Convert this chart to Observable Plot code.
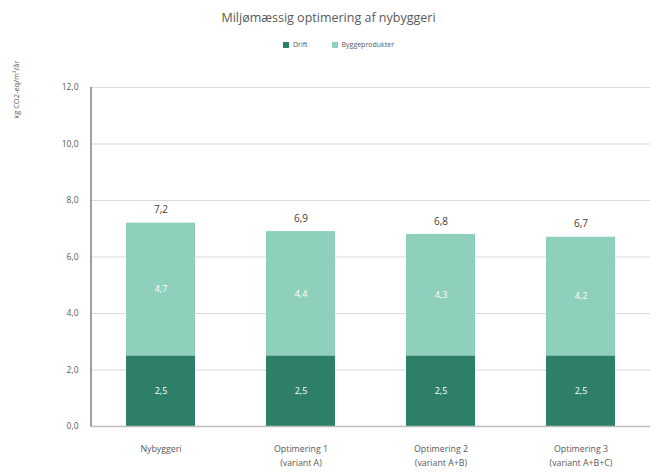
<!DOCTYPE html>
<html>
<head>
<meta charset="utf-8">
<script src="https://cdn.jsdelivr.net/npm/d3@7"></script>
<script src="https://cdn.jsdelivr.net/npm/@observablehq/plot@0.6"></script>
<style>
  body { margin: 0; background: #fff; font-family: "Open Sans", "Liberation Sans", sans-serif; color: #595959; }
  #wrap { width: 657px; }
  .title { text-align: center; font-size: 12.5px; height: 34px; line-height: 36px; color: #595959; }
  .legend { display: flex; justify-content: center; gap: 24px; font-size: 7px; height: 22px; line-height: 22px; color: #595959; padding-left: 20px; }
  .legend span { display: inline-flex; align-items: center; gap: 4px; }
  .legend i { display: inline-block; width: 6px; height: 6px; }
</style>
</head>
<body>
<div id="wrap">
  <div class="title">Miljømæssig optimering af nybyggeri</div>
  <div class="legend" id="legend"></div>
  <div id="chart"></div>
</div>
<script>
const categories = ["Nybyggeri", "Optimering 1\n(variant A)", "Optimering 2\n(variant A+B)", "Optimering 3\n(variant A+B+C)"];
const series = ["Drift", "Byggeprodukter"];
const drift = [2.5, 2.5, 2.5, 2.5];
const byggeprodukter = [4.7, 4.4, 4.3, 4.2];
const totals = [7.2, 6.9, 6.8, 6.7];
const yTicks = [0, 2, 4, 6, 8, 10, 12];
const colors = ["#2e7f68", "#8fd0bd"];
const yLabel = "kg CO2-eq/m²/år";

const fmt = v => v.toFixed(1).replace(".", ",");

const rows = [];
categories.forEach((c, i) => {
  rows.push({cat: c, series: series[0], value: drift[i]});
  rows.push({cat: c, series: series[1], value: byggeprodukter[i]});
});
const totalRows = categories.map((c, i) => ({cat: c, total: totals[i]}));

const legend = document.getElementById("legend");
series.forEach((s, i) => {
  const sp = document.createElement("span");
  sp.innerHTML = `<i style="background:${colors[i]}"></i>${s}`;
  legend.appendChild(sp);
});

const chart = Plot.plot({
  width: 657,
  height: 418,
  marginLeft: 90,
  marginRight: 7,
  marginTop: 31,
  marginBottom: 48,
  style: {fontFamily: "'Open Sans', 'Liberation Sans', sans-serif", fontSize: "9px", color: "#595959", overflow: "visible"},
  x: {domain: categories, paddingInner: 0.51, paddingOuter: 0.255, label: null},
  y: {domain: [0, 12], label: null},
  color: {domain: series, range: colors},
  marks: [
    Plot.gridY(yTicks, {stroke: "#d9d9d9", strokeOpacity: 1}),
    Plot.barY(rows, Plot.stackY({x: "cat", y: "value", fill: "series", order: series})),
    Plot.text(rows, Plot.stackY({x: "cat", y: "value", z: "series", order: series, text: d => fmt(d.value), fill: "white", fontSize: 9})),
    Plot.text(totalRows, {x: "cat", y: "total", text: d => fmt(d.total), dy: -13, fill: "#404040", fontSize: 10}),
    Plot.axisY(yTicks, {tickSize: 0, tickPadding: 12, tickFormat: fmt, fontSize: 8.5, fill: "#595959"}),
    Plot.axisX({tickSize: 0, tickPadding: 15, fontSize: 8.8, lineHeight: 1.65, fill: "#595959", label: null}),
    Plot.ruleY([0], {stroke: "#bfbfbf", strokeWidth: 1.5}),
    Plot.ruleX([0], {x: () => categories[0], stroke: "#808080", dx: -70, y1: 0, y2: 12, strokeWidth: 1.5}),
    Plot.text([yLabel], {frameAnchor: "top-left", rotate: -90, textAnchor: "end", dx: -77, dy: -27, fontSize: 7.5, fill: "#595959"})
  ]
});
document.getElementById("chart").appendChild(chart);
</script>
</body>
</html>
